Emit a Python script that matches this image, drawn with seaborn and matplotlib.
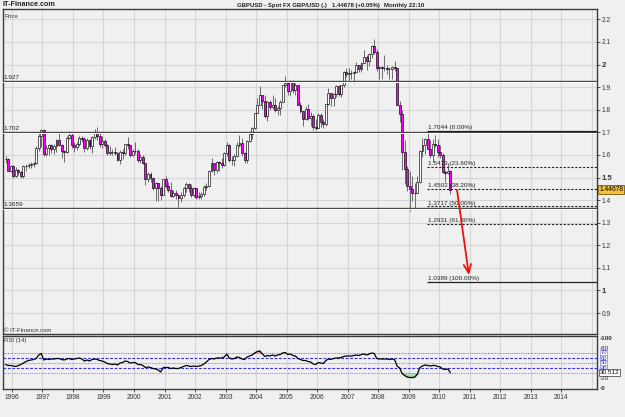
import numpy as np
import pandas as pd
import matplotlib
matplotlib.use("Agg")
import matplotlib.pyplot as plt
import seaborn as sns

# ---------------- data (monthly, Oct 1995 .. May 2010) ----------------
start_year, start_month = 1995, 10
first_open = 1.5815
close = [
    1.5800, 1.5305, 1.5525,
    1.5050, 1.5330, 1.5265, 1.5070, 1.5510, 1.5530, 1.5550, 1.5610, 1.5655, 1.6325, 1.6830, 1.7120,
    1.6045, 1.6300, 1.6420, 1.6240, 1.6380, 1.6640, 1.6430, 1.6155, 1.6140, 1.6750, 1.6880, 1.6450,
    1.6370, 1.6490, 1.6740, 1.6715, 1.6325, 1.6665, 1.6385, 1.6800, 1.6985, 1.6840, 1.6480, 1.6620,
    1.6445, 1.6090, 1.6115, 1.6110, 1.6075, 1.5790, 1.6150, 1.6085, 1.6465, 1.6445, 1.5980, 1.6155,
    1.6170, 1.5780, 1.5920, 1.5625, 1.4945, 1.5135, 1.4975, 1.4530, 1.4745, 1.4545, 1.4225, 1.4925,
    1.4645, 1.4445, 1.4195, 1.4305, 1.4225, 1.4115, 1.4220, 1.4520, 1.4705, 1.4540, 1.4235, 1.4550,
    1.4130, 1.4200, 1.4250, 1.4580, 1.4630, 1.5270, 1.5630, 1.5335, 1.5705, 1.5640, 1.5550, 1.6100,
    1.6455, 1.5770, 1.5795, 1.5960, 1.6440, 1.6505, 1.6080, 1.5780, 1.6610, 1.6945, 1.7200, 1.7850,
    1.8210, 1.8650, 1.8400, 1.7740, 1.8325, 1.8140, 1.8190, 1.7980, 1.8075, 1.8360, 1.9100, 1.9180,
    1.8835, 1.9205, 1.8885, 1.9075, 1.8195, 1.7925, 1.7600, 1.8025, 1.7645, 1.7705, 1.7240, 1.7200,
    1.7785, 1.7470, 1.7385, 1.8235, 1.8730, 1.8500, 1.8690, 1.9035, 1.8710, 1.9080, 1.9655, 1.9585,
    1.9625, 1.9630, 1.9675, 1.9990, 1.9785, 2.0065, 2.0320, 2.0150, 2.0455, 2.0800, 2.0575, 1.9850,
    1.9880, 1.9865, 1.9825, 1.9805, 1.9785, 1.9910, 1.9830, 1.8220, 1.7800, 1.6150, 1.5380, 1.4620,
    1.4500, 1.4315, 1.4335, 1.4800, 1.6165, 1.6460, 1.6710, 1.6280, 1.5990, 1.6465, 1.6460, 1.6150,
    1.6000, 1.5225, 1.5185, 1.5300, 1.44678,
]
high = [
    1.5940, 1.5880, 1.5560,
    1.5560, 1.5450, 1.5380, 1.5300, 1.5560, 1.5600, 1.5640, 1.5700, 1.5700, 1.6400, 1.6950, 1.7140,
    1.7140, 1.6420, 1.6500, 1.6500, 1.6500, 1.6720, 1.7000, 1.6500, 1.6230, 1.6850, 1.7050, 1.6950,
    1.6580, 1.6580, 1.6850, 1.6850, 1.6800, 1.6750, 1.6720, 1.6820, 1.7150, 1.7220, 1.6950, 1.6850,
    1.6700, 1.6500, 1.6400, 1.6280, 1.6350, 1.6150, 1.6230, 1.6240, 1.6500, 1.6780, 1.6450, 1.6250,
    1.6550, 1.6250, 1.6050, 1.6000, 1.5650, 1.5250, 1.5250, 1.5020, 1.4800, 1.4750, 1.4620, 1.4950,
    1.5080, 1.4780, 1.4800, 1.4450, 1.4450, 1.4250, 1.4350, 1.4600, 1.4800, 1.4750, 1.4700, 1.4600,
    1.4550, 1.4350, 1.4350, 1.4650, 1.4750, 1.5350, 1.5850, 1.5650, 1.5750, 1.5750, 1.5850, 1.6150,
    1.6550, 1.6500, 1.5950, 1.6050, 1.6550, 1.6900, 1.6750, 1.6150, 1.6650, 1.7050, 1.7250, 1.7850,
    1.8500, 1.9050, 1.8650, 1.8650, 1.8400, 1.8450, 1.8650, 1.8500, 1.8150, 1.8450, 1.9100, 1.9500,
    1.9250, 1.9300, 1.9300, 1.9200, 1.9100, 1.8350, 1.7950, 1.8150, 1.8250, 1.7900, 1.7800, 1.7600,
    1.7850, 1.7850, 1.7600, 1.8250, 1.8950, 1.8750, 1.8750, 1.9100, 1.9100, 1.9100, 1.9700, 1.9850,
    1.9850, 1.9750, 1.9700, 2.0100, 2.0000, 2.0100, 2.0650, 2.0400, 2.0500, 2.0850, 2.1150, 2.0700,
    1.9950, 1.9950, 2.0400, 2.0000, 1.9900, 1.9950, 2.0150, 1.9850, 1.8400, 1.8000, 1.6650, 1.5500,
    1.5300, 1.5050, 1.4750, 1.5050, 1.6200, 1.6750, 1.6750, 1.7050, 1.6650, 1.6700, 1.6900, 1.6700,
    1.6450, 1.6100, 1.5350, 1.5650, 1.5350,
]
low = [
    1.5650, 1.5270, 1.5240,
    1.4980, 1.5020, 1.5120, 1.4990, 1.5000, 1.5280, 1.5400, 1.5400, 1.5480, 1.5600, 1.6180, 1.6350,
    1.5950, 1.5960, 1.6000, 1.6080, 1.6050, 1.6150, 1.6400, 1.5850, 1.5700, 1.6100, 1.6700, 1.6300,
    1.6150, 1.6200, 1.6380, 1.6550, 1.6150, 1.6200, 1.6250, 1.6100, 1.6700, 1.6650, 1.6350, 1.6300,
    1.6330, 1.6000, 1.6010, 1.6000, 1.6000, 1.5730, 1.5600, 1.5840, 1.6000, 1.6250, 1.5900, 1.5950,
    1.6050, 1.5680, 1.5650, 1.5600, 1.4650, 1.4800, 1.4800, 1.4450, 1.3960, 1.3960, 1.4000, 1.4220,
    1.4550, 1.4350, 1.4150, 1.4150, 1.4050, 1.3700, 1.3900, 1.4120, 1.4350, 1.4350, 1.4150, 1.4150,
    1.4050, 1.4050, 1.4050, 1.4200, 1.4450, 1.4570, 1.5250, 1.5100, 1.5200, 1.5300, 1.5400, 1.5500,
    1.5950, 1.5700, 1.5550, 1.5500, 1.5900, 1.6350, 1.5950, 1.5650, 1.5650, 1.6550, 1.6700, 1.7150,
    1.7850, 1.8250, 1.8050, 1.7650, 1.7500, 1.8000, 1.8050, 1.7900, 1.7750, 1.7750, 1.8350, 1.9000,
    1.8650, 1.8600, 1.8750, 1.8650, 1.8200, 1.7850, 1.7300, 1.7550, 1.7550, 1.7300, 1.7100, 1.7100,
    1.7200, 1.7250, 1.7200, 1.7300, 1.8200, 1.8150, 1.8150, 1.8550, 1.8600, 1.8550, 1.9000, 1.9450,
    1.9300, 1.9350, 1.9200, 1.9650, 1.9650, 1.9650, 2.0050, 1.9750, 1.9950, 2.0300, 2.0450, 1.9700,
    1.9350, 1.9350, 1.9700, 1.9600, 1.9350, 1.9350, 1.9700, 1.8200, 1.7450, 1.5350, 1.4700, 1.4400,
    1.3500, 1.3950, 1.3650, 1.4300, 1.4750, 1.5900, 1.6050, 1.6250, 1.5850, 1.5700, 1.6350, 1.5900,
    1.5850, 1.5200, 1.4800, 1.5150, 1.4250,
]
rsi = [
    47, 45, 45,
    44, 43, 45, 47, 50, 53, 55, 56, 57, 59, 66, 69,
    56, 58, 57, 58, 58, 59, 59, 57, 56, 58, 59, 57,
    58, 59, 60, 58, 54, 56, 54, 57, 58, 57, 55, 54,
    52, 49, 48, 47, 48, 46, 50, 51, 54, 53, 50, 51,
    51, 47, 47, 45, 41, 42, 41, 39, 38, 36, 32, 41,
    41, 41, 39, 40, 39, 39, 41, 43, 45, 44, 43, 44,
    43, 44, 45, 48, 52, 57, 59, 58, 60, 60, 60, 62,
    68, 60, 58, 59, 62, 61, 58, 57, 62, 64, 66, 70,
    73, 74, 68, 63, 65, 64, 66, 64, 66, 67, 70, 71,
    67, 68, 65, 64, 59, 57, 55, 55, 53, 52, 48, 47,
    51, 50, 49, 55, 58, 57, 59, 60, 60, 61, 63, 64,
    64, 64, 65, 66, 65, 67, 68, 66, 68, 70, 69, 59,
    58, 58, 58, 58, 57, 58, 57, 44, 40, 29, 25, 22,
    21, 21, 22, 28, 41, 44, 46, 45, 44, 45, 45, 43,
    42, 38, 37, 38, 30.512,
]
year_ticks = list(range(1996, 2015))
price_ticks = [0.9, 1.0, 1.1, 1.2, 1.3, 1.4, 1.5, 1.6, 1.7, 1.8, 1.9, 2.0, 2.1, 2.2]
price_tick_labels = ["0.9", "1", "1.1", "1.2", "1.3", "1.4", "1.5", "1.6", "1.7",
                     "1.8", "1.9", "2", "2.1", "2.2"]
sr_levels = [1.927, 1.702, 1.3659]
sr_labels = ["1.927", "1.702", "1.3659"]
fib_levels = [1.7044, 1.5473, 1.4502, 1.3717, 1.2931, 1.0389]
fib_pcts = ["0.00%", "23.60%", "38.20%", "50.00%", "61.80%", "100.00%"]
last_price = 1.44678

n = len(close)
assert len(high) == n and len(low) == n and len(rsi) == n
months = np.arange(n)
t = start_year + (start_month - 1 + months) / 12 + 1 / 24
c = np.array(close)
o = np.concatenate([[first_open], c[:-1]])
df = pd.DataFrame({"t": t, "open": o, "high": high, "low": low, "close": c, "rsi": rsi})

# ---------------- figure ----------------
sns.set_theme(style="white")
plt.rcParams["font.family"] = ["Liberation Sans", "DejaVu Sans"]
BG = "#f0f0f0"
GRID = "#d6d6d6"
EDGE = "#3c3c3c"

W, H = 625, 417
fig = plt.figure(figsize=(W / 100, H / 100), dpi=100, facecolor=BG)

def fx(px):
    return px / W

def fy(py):
    return 1 - py / H

ax = fig.add_axes([fx(3), fy(334), fx(594), (334 - 9) / H])
axr = fig.add_axes([fx(3), fy(389), fx(594), (389 - 336) / H])

X0, X1 = 1995.705, 2015.18
for a in (ax, axr):
    a.set_facecolor(BG)
    a.set_xlim(X0, X1)
    for s in a.spines.values():
        s.set_color(EDGE)
        s.set_linewidth(1.0)
    for yr in range(1996, 2016):
        a.axvline(yr, color=GRID, lw=0.8, zorder=0)

# ---- main price panel ----
ax.set_ylim(0.8075, 2.2456)
for p in price_ticks:
    ax.axhline(p, color=GRID, lw=0.8, zorder=0)

up = df[df.close >= df.open]
dn = df[df.close < df.open]
ax.vlines(df.t, df.low, df.high, color="#555555", lw=0.6, zorder=2)
ax.bar(up.t, (up.close - up.open).clip(lower=0.002), bottom=up.open, width=0.064,
       color="white", edgecolor="black", linewidth=0.45, zorder=3)
ax.bar(dn.t, dn.close - dn.open, bottom=dn.open, width=0.064,
       color="#ff00ff", edgecolor="black", linewidth=0.45, zorder=3)

px_price = 1 / 226.0
for lvl, lab in zip(sr_levels, sr_labels):
    ax.axhline(lvl, color="#4a4a4a", lw=1.0, zorder=4)
    ax.axhline(lvl - px_price, color="white", lw=0.7, zorder=4)
    ax.text(X0 + 0.03, lvl + 3.2 * px_price, lab, fontsize=4.6, color="#222222",
            va="center", ha="left", zorder=5)

fib_x0 = 2009.61
for i, (lvl, pct) in enumerate(zip(fib_levels, fib_pcts)):
    solid = i in (0, len(fib_levels) - 1)
    ax.hlines(lvl, fib_x0, X1, color="#222222", lw=0.9 if solid else 0.8,
              linestyles="solid" if solid else (0, (2, 1.5)), zorder=4)
    ax.text(fib_x0 + 0.03, lvl + 3.4 * px_price, f"{lvl:.4f} ({pct})", fontsize=4.6,
            color="#222222", va="center", ha="left", zorder=5)

ax.annotate("", xy=(2010.98, 1.0686), xytext=(2010.59, 1.4447),
            arrowprops=dict(arrowstyle="->,head_length=0.5,head_width=0.22",
                            color="#ee1111", lw=1.3, shrinkA=0, shrinkB=0), zorder=6)

ax.yaxis.tick_right()
ax.set_yticks(price_ticks)
ax.set_yticklabels(price_tick_labels)
ax.tick_params(axis="y", which="both", right=True, length=2, width=0.6, pad=1.5,
               labelsize=4.8, colors="#333333", direction="out")
for lbl in ax.get_yticklabels():
    if lbl.get_text() in ("2", "1.5", "1"):
        lbl.set_fontweight("bold")
        lbl.set_fontsize(5.6)
ax.set_xticks([])
ax.set_xlabel("")
ax.set_ylabel("")

ax.text(1.0035, last_price, f"{last_price:.5f}", transform=ax.get_yaxis_transform(),
        fontsize=4.8, color="black", va="center", ha="left", clip_on=False,
        bbox=dict(boxstyle="square,pad=0.15", fc="#f3c040", ec="#7a5a00", lw=0.6))

ax.text(0.002, 0.985, "Price", transform=ax.transAxes, fontsize=4.3, color="#333333",
        va="top", ha="left")
ax.text(0.001, 0.004, "\u00a9 IT-Finance.com", transform=ax.transAxes, fontsize=4.3,
        color="#333333", va="bottom", ha="left")

# ---- RSI panel ----
axr.set_ylim(-2, 104)
axr.fill_between(df.t, df.rsi, 30, where=df.rsi < 30, interpolate=True,
                 color="#b7d9b3", zorder=1)
axr.fill_between(df.t, df.rsi, 70, where=df.rsi > 70, interpolate=True,
                 color="#e7a3a3", zorder=1)
lvl_styles = {70: ("#7a7aff", (0, (1, 1))), 60: ("#3030e0", (0, (2.5, 1.5))),
              50: ("#8a8aff", (0, (1, 1))), 40: ("#3030e0", (0, (2.5, 1.5))),
              30: ("#8a8aff", (0, (1, 1)))}
for lv, (col, ls) in lvl_styles.items():
    axr.axhline(lv, color=col, lw=0.8, ls=ls, zorder=1)
sns.lineplot(data=df, x="t", y="rsi", ax=axr, color="black", lw=0.9, zorder=3)

axr.set_xticks(year_ticks)
axr.set_xticklabels([str(y) for y in year_ticks])
axr.tick_params(axis="x", length=2, width=0.6, pad=1.5, labelsize=4.8,
                colors="#333333", direction="out", bottom=True)
axr.set_yticks([])
axr.set_xlabel("")
axr.set_ylabel("")
axr.text(0.002, 0.97, "RSI (14)", transform=axr.transAxes, fontsize=4.3,
         color="#333333", va="top", ha="left")

ytr = axr.get_yaxis_transform()
for v, lab in [(100, "100"), (80, "80"), (20, "20"), (0, "0")]:
    axr.text(1.004, v, "-" + lab, transform=ytr, fontsize=4.6, color="#333333",
             va="center", ha="left", clip_on=False,
             fontweight="bold" if v in (100, 0) else "normal")
for v in (70, 60, 50, 40):
    axr.text(1.006, v, str(v), transform=ytr, fontsize=4.2, color="#2a2ad8",
             va="center", ha="left", clip_on=False,
             bbox=dict(boxstyle="square,pad=0.05", fc="white", ec="#6a6ae0", lw=0.4))
axr.text(1.004, 30.512, "30.512", transform=ytr, fontsize=4.6, color="black",
         va="center", ha="left", clip_on=False,
         bbox=dict(boxstyle="square,pad=0.12", fc="white", ec="#333333", lw=0.5))

# ---- header texts ----
fig.text(fx(3), fy(5), "IT-Finance.com", fontsize=5.2, fontweight="bold",
         color="#222222", va="center", ha="left")
fig.text(fx(237), fy(5), "GBPUSD - Spot FX GBP/USD (.)", fontsize=4.3,
         fontweight="bold", color="#222222", va="center", ha="left")
fig.text(fx(332), fy(5), "1.44678 (+0.05%)", fontsize=4.3, fontweight="bold",
         color="#222222", va="center", ha="left")
fig.text(fx(384), fy(5), "Monthly 22:10", fontsize=4.3, fontweight="bold",
         color="#222222", va="center", ha="left")

fig.savefig("out.png", dpi=100, facecolor=fig.get_facecolor())
